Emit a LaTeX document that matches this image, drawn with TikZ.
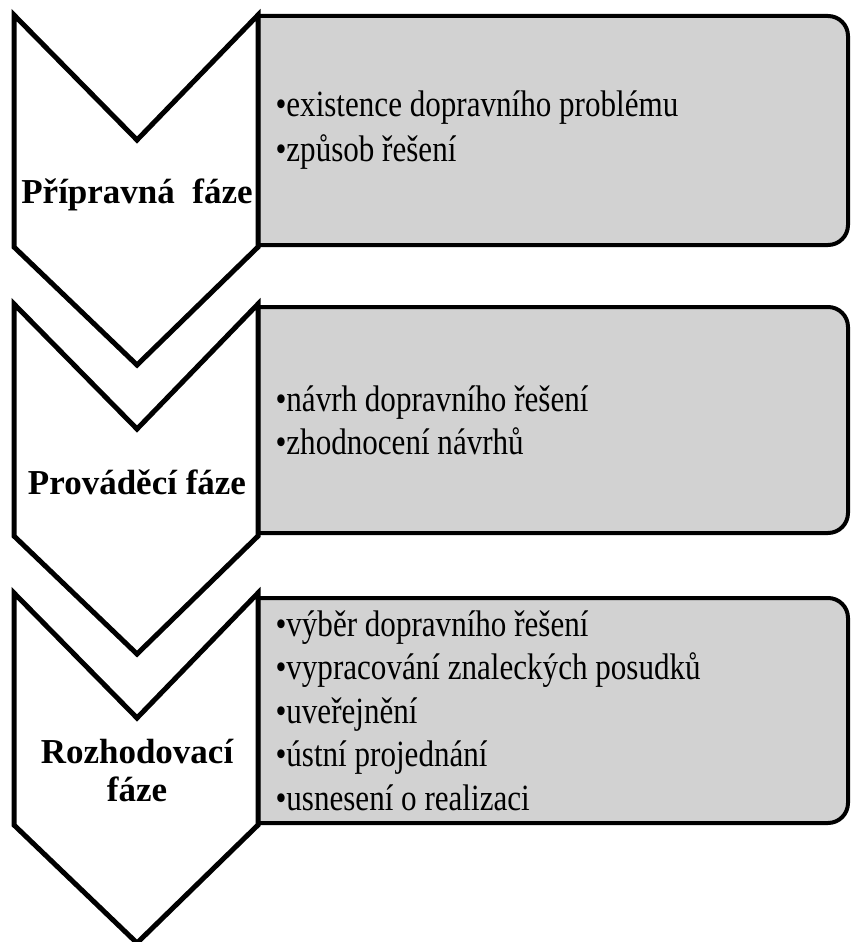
\documentclass[tikz,border=0pt]{standalone}
\usepackage{fontspec}
\setmainfont{Liberation Serif}
\newfontfamily\itemfont[FakeStretch=0.84]{Liberation Serif}
\begin{document}
\begin{tikzpicture}[x=1pt,y=-1pt]
	\useasboundingbox (0,0) rectangle (851,942);
	% gray boxes, rounded on the right only
	\foreach \t/\b [count=\i] in {16/245,307/533,598/823}{
		\draw[line width=4pt,fill=gray!35] (258,\t) -- (828,\t) arc[start angle=-90,end angle=0,radius=20] -- (848,\b-20) arc[start angle=0,end angle=90,radius=20] -- (258,\b) -- cycle;
		\coordinate (box\i) at (272,{(\t+\b)/2});
	}
	% chevrons
	\foreach \t [count=\i] in {15,304,593}{
		\draw[line width=5pt,fill=white] (14,\t) -- (137,\t+125) -- (258,\t) -- (258,\t+232) -- (137,\t+350) -- (14,\t+232) -- cycle;
	}
	\node[font=\bfseries\fontsize{35}{38}\selectfont] (p1) at (137,195) {Přípravná\ \ fáze};
	\node[font=\bfseries\fontsize{35}{38}\selectfont] (p2) at (137,482) {Prováděcí fáze};
	\node[font=\bfseries\fontsize{35}{38}\selectfont,align=center] (p3) at (137,771) {Rozhodovací\\fáze};
	\node[anchor=west,align=left,font=\itemfont\fontsize{37}{45}\selectfont] (b1) at (box1) {•existence dopravního problému\\•způsob řešení};
	\node[anchor=west,align=left,font=\itemfont\fontsize{37}{43}\selectfont] (b2) at (box2) {•návrh dopravního řešení\\•zhodnocení návrhů};
	\node[anchor=west,align=left,font=\itemfont\fontsize{37}{43.5}\selectfont] (b3) at (box3) {•výběr dopravního řešení\\•vypracování znaleckých posudků\\•uveřejnění\\•ústní projednání\\•usnesení o realizaci};
\end{tikzpicture}
\end{document}
